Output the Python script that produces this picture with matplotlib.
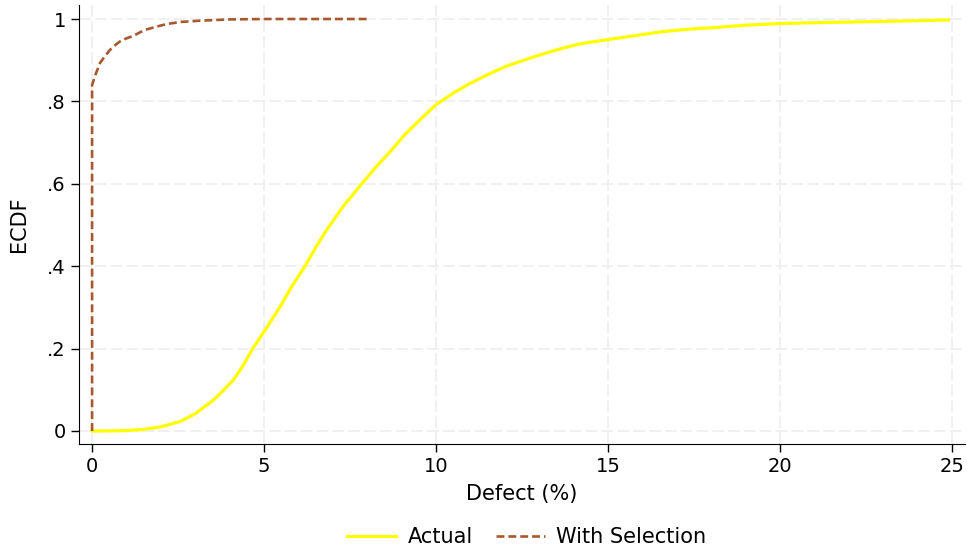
import matplotlib.pyplot as plt
import numpy as np

# ECDF of defect rate
actual_x = [0, 0.5, 1, 1.5, 2, 2.56, 3.0, 3.53, 3.8, 4.11, 4.4, 4.67, 5.0, 5.47, 5.8, 6.19,
            6.5, 6.82, 7.3, 7.84, 8.3, 8.71, 9.1, 9.53, 10, 10.5, 10.93, 11.5, 12.03, 12.8,
            13.54, 14.2, 15, 16.55, 17.3, 18.05, 19, 20, 21, 22.55, 23.5, 24.9]
actual_y = [0, 0, 0.001, 0.004, 0.01, 0.023, 0.042, 0.075, 0.097, 0.124, 0.16, 0.2, 0.241,
            0.302, 0.35, 0.4, 0.445, 0.488, 0.545, 0.6, 0.645, 0.682, 0.72, 0.755, 0.792,
            0.82, 0.841, 0.865, 0.885, 0.907, 0.926, 0.94, 0.950, 0.969, 0.975, 0.979,
            0.985, 0.989, 0.991, 0.9935, 0.995, 0.9976]

sel_x = [0, 0, 0.1, 0.23, 0.35, 0.52, 0.65, 0.8, 1.0, 1.2, 1.4, 1.6, 1.9, 2.18, 2.6, 3.15,
         4, 5, 8]
sel_y = [0, 0.84, 0.865, 0.893, 0.907, 0.925, 0.935, 0.945, 0.953, 0.959, 0.968, 0.975,
         0.982, 0.988, 0.993, 0.996, 0.999, 1.0, 1.0]

xticks = [0, 5, 10, 15, 20, 25]
yticks = [0, 0.2, 0.4, 0.6, 0.8, 1]
ylabels = ['0', '.2', '.4', '.6', '.8', '1']

fig = plt.figure(figsize=(9.67, 5.5), dpi=100)
ax = fig.add_axes([79 / 967, 106 / 550, 886 / 967, 439 / 550])

ax.plot(actual_x, actual_y, color='#ffff00', lw=2.3, label='Actual', solid_joinstyle='round')
ax.plot(sel_x, sel_y, color='#a8582f', lw=1.9, ls=(0, (3, 1.5)), label='With Selection')

ax.set_xlim(-0.38, 25.38)
ax.set_ylim(-0.0316, 1.034)
ax.set_xticks(xticks)
ax.set_yticks(yticks)
ax.set_yticklabels(ylabels)
ax.grid(True, color='#ededed', ls=(0, (7, 2.5)), lw=1.2)
ax.set_axisbelow(True)
for s in ['top', 'right']:
    ax.spines[s].set_visible(False)
ax.tick_params(labelsize=14, length=6, width=1)
ax.set_xlabel('Defect (%)', fontsize=15)
ax.set_ylabel('ECDF', fontsize=15)
ax.yaxis.set_label_coords(-0.056, 0.5)
ax.xaxis.set_label_coords(0.5, -0.092)

fig.legend(loc='center', bbox_to_anchor=(0.545, 0.023), ncol=2, frameon=False,
           fontsize=15, handlelength=2.35, handletextpad=0.55, columnspacing=1.1)

fig.savefig('out.png', dpi=100)
